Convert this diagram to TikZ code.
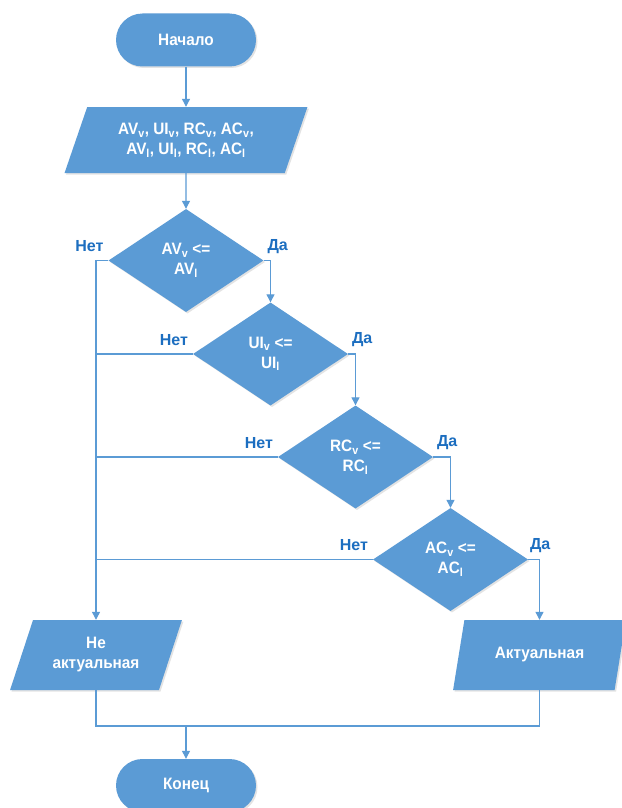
\documentclass[tikz,border=0pt]{standalone}
\usepackage{fontspec}
\setmainfont{Liberation Sans}[FakeStretch=0.93]
\newfontfamily\labfont{Liberation Sans}
\usetikzlibrary{shapes.geometric,arrows.meta,shadows}
\definecolor{fc}{RGB}{91,155,213}
\definecolor{lc}{RGB}{91,155,213}
\definecolor{tc}{RGB}{28,110,192}
\newcommand\sbs[1]{\textsubscript{#1}}
\begin{document}
\begin{tikzpicture}[x=1pt,y=-1pt,
  base/.style={fill=fc, draw=none, text=white, align=center,
    font=\fontsize{16.5}{20}\selectfont\bfseries,
    drop shadow={shadow xshift=1.5pt, shadow yshift=-1.5pt, opacity=0.18, fill=black!60}},
  term/.style={base, rectangle, rounded corners=26.5pt, minimum width=140pt, minimum height=53pt},
  dec/.style={base, diamond, minimum width=155pt, minimum height=103pt, inner sep=0pt},
  io/.style={base, trapezium, trapezium left angle=65.5, trapezium right angle=114.5,
    trapezium stretches=true, inner sep=0pt},
  lab/.style={text=tc, font=\labfont\fontsize{16}{18}\selectfont\bfseries},
  ln/.style={draw=lc, line width=1.2pt},
  arr/.style={ln, -{Triangle[length=8pt,width=8pt]}}]
\useasboundingbox (0,0) rectangle (621,808);
\fill[white] (0,0) rectangle (621,808);

\node[term] (start) at (186,40) {Начало};
\node[io, minimum width=243pt, minimum height=66pt] (in) at (186,140)
  {AV\sbs{v}, UI\sbs{v}, RC\sbs{v}, AC\sbs{v},\\AV\sbs{l}, UI\sbs{l}, RC\sbs{l}, AC\sbs{l}};
\node[dec] (d1) at (186,260.5) {AV\sbs{v} <=\\AV\sbs{l}};
\node[dec] (d2) at (270.5,354) {UI\sbs{v} <=\\UI\sbs{l}};
\node[dec] (d3) at (355.5,457) {RC\sbs{v} <=\\RC\sbs{l}};
\node[dec] (d4) at (450.5,559.5) {AC\sbs{v} <=\\AC\sbs{l}};
\node[io, minimum width=172pt, minimum height=70pt] (ne) at (96,655) {Не\\актуальная};
\node[io, minimum width=173pt, minimum height=70pt] (akt) at (539.5,655) {Актуальная};
\node[term] (end) at (186,785.5) {Конец};

\node[lab] (n1) at ([xshift=-19pt,yshift=14pt]d1.west) {Нет};
\node[lab] (y1) at ([xshift=14pt,yshift=14pt]d1.east) {Да};
\node[lab] (n2) at ([xshift=-19pt,yshift=14pt]d2.west) {Нет};
\node[lab] (y2) at ([xshift=14pt,yshift=14pt]d2.east) {Да};
\node[lab] (n3) at ([xshift=-19pt,yshift=14pt]d3.west) {Нет};
\node[lab] (y3) at ([xshift=14pt,yshift=14pt]d3.east) {Да};
\node[lab] (n4) at ([xshift=-19pt,yshift=14pt]d4.west) {Нет};
\node[lab] (y4) at ([xshift=12pt,yshift=14pt]d4.east) {Да};

\coordinate (neT) at (ne.center |- ne.north);
\coordinate (neB) at (ne.center |- ne.south);
\coordinate (akT) at (akt.center |- akt.north);
\coordinate (akB) at (akt.center |- akt.south);
\coordinate (m) at (end.north |- 0,726);

\draw[arr] (start) -- (in);
\draw[arr] (in) -- (d1);
\draw[arr] (d1.east) -| (d2.north);
\draw[arr] (d2.east) -| (d3.north);
\draw[arr] (d3.east) -| (d4.north);
\draw[arr] (d4.east) -| (akT);
\draw[arr] (d1.west) -| (neT);
\draw[ln] (d2.west) -- (d2.west -| neT);
\draw[ln] (d3.west) -- (d3.west -| neT);
\draw[ln] (d4.west) -- (d4.west -| neT);
\draw[ln] (neB) |- (m) -| (akB);
\draw[arr] (m) -- (end.north);
\end{tikzpicture}
\end{document}
